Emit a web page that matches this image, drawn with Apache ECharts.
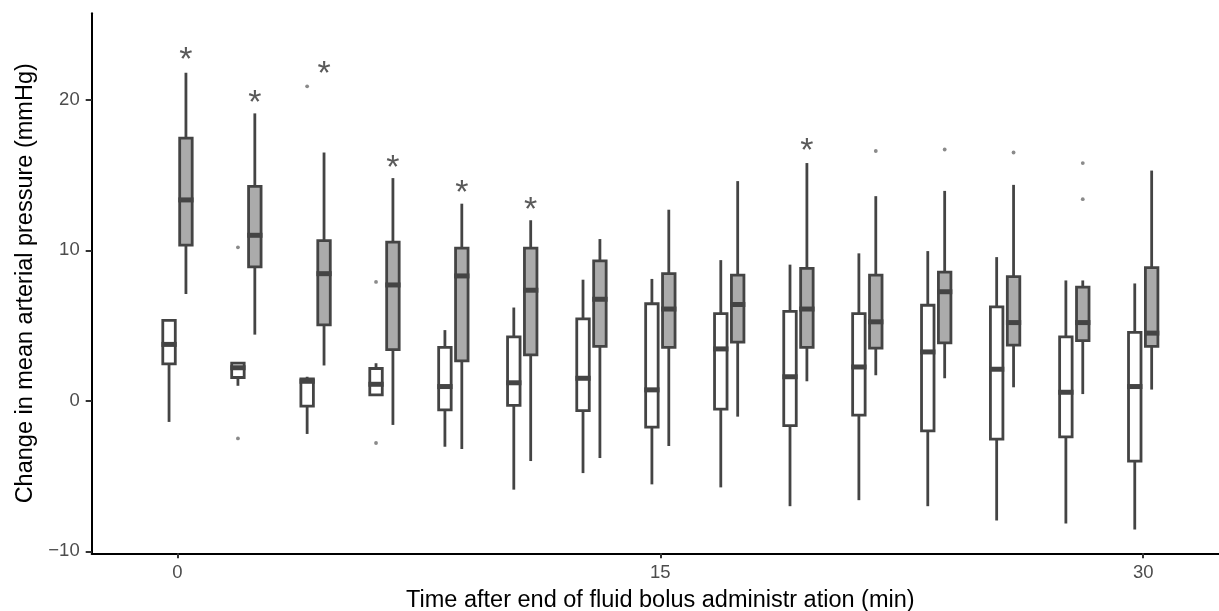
<!DOCTYPE html>
<html>
<head>
<meta charset="utf-8">
<script src="https://cdn.jsdelivr.net/npm/echarts@6/dist/echarts.min.js"></script>
<style>
html,body{margin:0;padding:0;background:#ffffff;}
#chart{width:1219px;height:611px;}
</style>
</head>
<body>
<div id="chart"></div>
<script>
// ---- data ----
// time of each measurement group (min)
const times = [0, 2.14, 4.29, 6.43, 8.57, 10.71, 12.86, 15, 17.14, 19.29, 21.43, 23.57, 25.71, 27.86, 30];
// box statistics: [lower whisker, Q1, median, Q3, upper whisker]
const whiteStats = [
  [-1.4, 2.45, 3.75, 5.35, 5.35],
  [1.0, 1.55, 2.2, 2.5, 2.5],
  [-2.2, -0.35, 1.3, 1.45, 1.6],
  [0.4, 0.4, 1.1, 2.15, 2.5],
  [-3.05, -0.6, 0.95, 3.55, 4.7],
  [-5.9, -0.3, 1.2, 4.25, 6.2],
  [-4.8, -0.65, 1.5, 5.45, 8.05],
  [-5.55, -1.75, 0.73, 6.45, 8.1],
  [-5.75, -0.55, 3.45, 5.8, 9.35],
  [-7.0, -1.65, 1.6, 5.95, 9.05],
  [-6.6, -0.95, 2.25, 5.8, 9.8],
  [-7.0, -2.0, 3.25, 6.35, 9.95],
  [-7.95, -2.55, 2.1, 6.25, 9.55],
  [-8.15, -2.4, 0.57, 4.25, 8.0],
  [-8.55, -4.0, 0.95, 4.55, 7.8]
];
const grayStats = [
  [7.1, 10.35, 13.35, 17.45, 21.8],
  [4.4, 8.9, 11.0, 14.25, 19.1],
  [2.35, 5.05, 8.45, 10.65, 16.5],
  [-1.6, 3.4, 7.7, 10.55, 14.8],
  [-3.2, 2.65, 8.3, 10.15, 13.1],
  [-4.0, 3.05, 7.35, 10.15, 12.0],
  [-3.8, 3.62, 6.75, 9.3, 10.75],
  [-3.0, 3.55, 6.1, 8.45, 12.7],
  [-1.05, 3.9, 6.4, 8.35, 14.6],
  [1.3, 3.55, 6.1, 8.8, 15.8],
  [1.7, 3.5, 5.25, 8.35, 13.6],
  [1.5, 3.85, 7.25, 8.55, 13.95],
  [0.9, 3.7, 5.2, 8.25, 14.35],
  [0.45, 4.0, 5.2, 7.55, 8.0],
  [0.75, 3.62, 4.5, 8.85, 15.3]
];
// outliers: [group index, value]
const whiteOutliers = [[1, 10.2], [1, -2.5], [2, 20.9], [3, 7.9], [3, -2.8]];
const grayOutliers = [[10, 16.6], [11, 16.7], [12, 16.5], [13, 15.8], [13, 13.4]];
// significance markers above the grey boxes
const starGroups = [0, 1, 2, 3, 4, 5, 9];
const starValues = [23.05, 20.2, 22.1, 15.9, 14.2, 13.1, 17.0];
// axis ticks
const xTicks = [0, 15, 30];
const yTicks = [-10, 0, 10, 20];

// ---- styles ----
const FONT = '"Liberation Sans", Arial, Helvetica, sans-serif';
const STROKE = '#444444';
const GRAY_FILL = '#ababab';
const LW = 2.8;
const GAP = 0.8;

function boxRenderer(side, fill) {
  return function (params, api) {
    const t = api.value(0);
    const mn = api.value(1), q1 = api.value(2), md = api.value(3), q3 = api.value(4), mx = api.value(5);
    const half = api.size([0.5, 0])[0];
    const c = api.coord([t, 0])[0];
    let x0, x1;
    if (side < 0) { x0 = c - half + LW / 2; x1 = c - GAP - LW / 2; }
    else { x0 = c + GAP + LW / 2; x1 = c + half - LW / 2; }
    const xm = (x0 + x1) / 2;
    const y = v => api.coord([t, v])[1];
    const ln = {stroke: STROKE, lineWidth: LW};
    return {
      type: 'group',
      children: [
        {type: 'line', shape: {x1: xm, y1: y(q3), x2: xm, y2: y(mx)}, style: ln},
        {type: 'line', shape: {x1: xm, y1: y(q1), x2: xm, y2: y(mn)}, style: ln},
        {type: 'rect', shape: {x: x0, y: y(q3), width: x1 - x0, height: y(q1) - y(q3)},
          style: {fill: fill, stroke: STROKE, lineWidth: LW}},
        {type: 'line', shape: {x1: x0 - LW / 2, y1: y(md), x2: x1 + LW / 2, y2: y(md)},
          style: {stroke: STROKE, lineWidth: 5}}
      ]
    };
  };
}

function outlierRenderer(side) {
  return function (params, api) {
    const t = api.value(0);
    const half = api.size([0.5, 0])[0];
    const c = api.coord([t, 0])[0];
    const xm = side < 0 ? c - half / 2 - GAP / 2 : c + half / 2 + GAP / 2;
    const yy = api.coord([t, api.value(1)])[1];
    return {type: 'circle', shape: {cx: xm, cy: yy, r: 1.9}, style: {fill: '#8a8a8a'}};
  };
}

function starRenderer(params, api) {
  const t = api.value(0);
  const half = api.size([0.5, 0])[0];
  const c = api.coord([t, 0])[0];
  const xm = c + half / 2 + GAP / 2;
  const yy = api.coord([t, api.value(1)])[1];
  const fs = 34;
  return {
    type: 'text',
    style: {
      text: '*', x: xm, y: yy + 0.2 * fs,
      fontSize: fs, fontFamily: FONT, fill: '#5a5a5a',
      align: 'center', verticalAlign: 'middle'
    }
  };
}

const whiteData = times.map((t, i) => [t].concat(whiteStats[i]));
const grayData = times.map((t, i) => [t].concat(grayStats[i]));
const whiteOutData = whiteOutliers.map(o => [times[o[0]], o[1]]);
const grayOutData = grayOutliers.map(o => [times[o[0]], o[1]]);
const starData = starGroups.map((g, i) => [times[g], starValues[i]]);

const chart = echarts.init(document.getElementById('chart'), null, {renderer: 'canvas'});
chart.setOption({
  animation: false,
  backgroundColor: '#ffffff',
  grid: {left: 91.7, right: -10, top: 13.3, bottom: 57.7, containLabel: false, outerBoundsMode: 'none'},
  xAxis: {
    type: 'value', min: -2.665, max: 32.665,
    splitLine: {show: false},
    axisLine: {show: true, onZero: false, lineStyle: {color: '#000000', width: 2}},
    axisTick: {show: true, customValues: xTicks, length: 5, lineStyle: {color: '#333333', width: 2}},
    axisLabel: {show: true, customValues: xTicks, color: '#4d4d4d', fontSize: 18.5, fontFamily: FONT, margin: 10},
    name: 'Time after end of fluid bolus administr ation (min)',
    nameLocation: 'middle', nameGap: 35,
    nameTextStyle: {color: '#000000', fontSize: 23.5, fontFamily: FONT}
  },
  yAxis: {
    type: 'value', min: -10.13, max: 25.75,
    splitLine: {show: false},
    axisLine: {show: true, onZero: false, lineStyle: {color: '#000000', width: 2}},
    axisTick: {show: true, customValues: yTicks, length: 6, lineStyle: {color: '#333333', width: 2}},
    axisLabel: {
      show: true, customValues: yTicks, color: '#4d4d4d', fontSize: 18.5, fontFamily: FONT, margin: 12,
      formatter: v => (v < 0 ? '\u2212' + Math.abs(v) : String(v))
    },
    name: 'Change in mean arterial pressure (mmHg)',
    nameLocation: 'middle', nameGap: 54,
    nameTextStyle: {color: '#000000', fontSize: 23.5, fontFamily: FONT}
  },
  series: [
    {type: 'custom', name: 'white', renderItem: boxRenderer(-1, '#ffffff'), data: whiteData,
      encode: {x: 0, y: [1, 2, 3, 4, 5]}, clip: false, z: 2},
    {type: 'custom', name: 'gray', renderItem: boxRenderer(1, GRAY_FILL), data: grayData,
      encode: {x: 0, y: [1, 2, 3, 4, 5]}, clip: false, z: 2},
    {type: 'custom', name: 'whiteOut', renderItem: outlierRenderer(-1), data: whiteOutData,
      encode: {x: 0, y: 1}, z: 3},
    {type: 'custom', name: 'grayOut', renderItem: outlierRenderer(1), data: grayOutData,
      encode: {x: 0, y: 1}, z: 3},
    {type: 'custom', name: 'stars', renderItem: starRenderer, data: starData,
      encode: {x: 0, y: 1}, z: 4}
  ]
});
</script>
</body>
</html>
